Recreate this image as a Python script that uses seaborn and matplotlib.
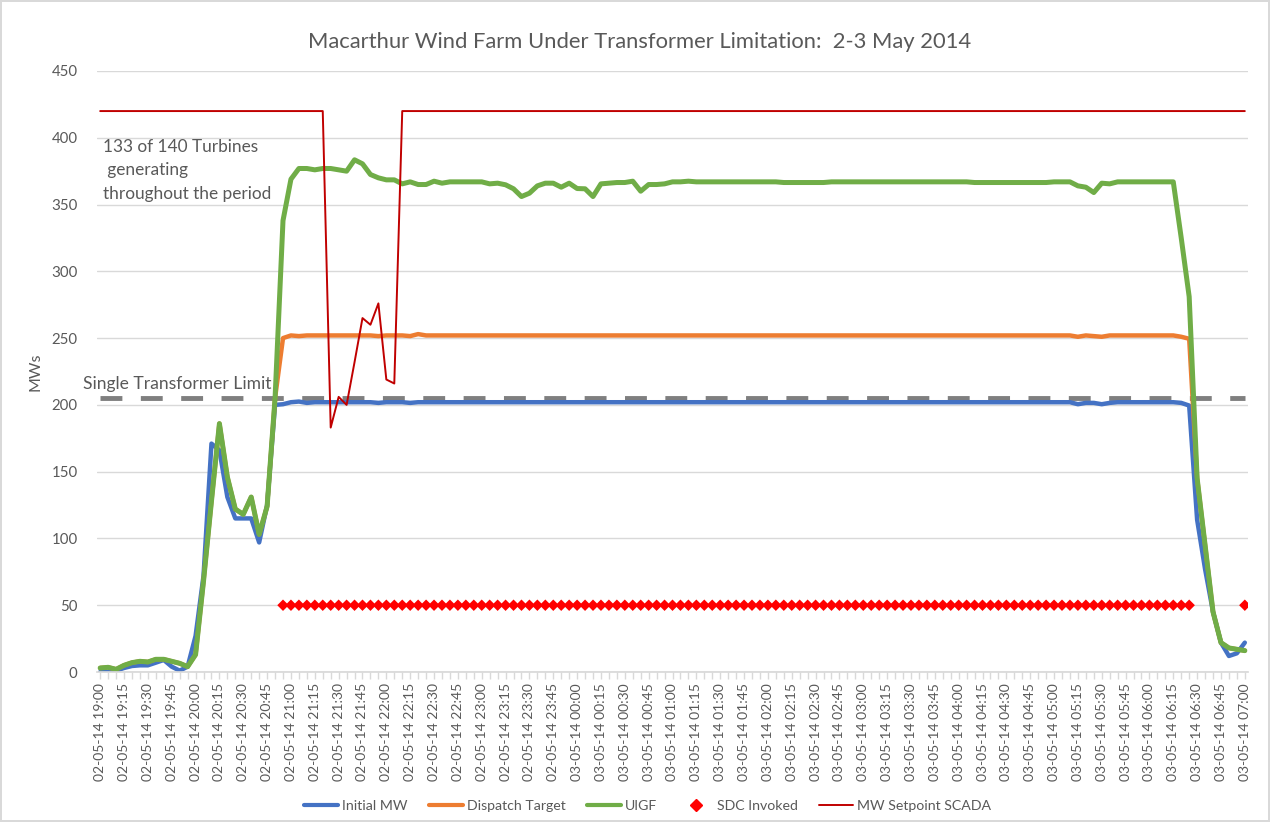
import numpy as np
import pandas as pd
import matplotlib
matplotlib.use('Agg')
import matplotlib.pyplot as plt
import seaborn as sns
from matplotlib.lines import Line2D

# 5-minute intervals, 19:00 on 2 May to 07:00 on 3 May 2014
times = pd.date_range('2014-05-02 19:00', '2014-05-03 07:00', freq='5min')
tick_labels = [t.strftime('%d-%m-%y %H:%M') for t in times[::3]]

initial_mw = [
    0, 0, 1, 3, 4.5, 5, 5, 7, 9, 4, 1, 4, 27, 72, 171, 166, 131, 115, 115, 115,
    97, 125, 200, 200.5, 202, 202.5, 201.5, 202, 202, 202, 202, 202, 202, 202, 202, 201.5,
    202, 202, 202, 201.5, 202] + [202] * 82 + [
    200.5, 201.5, 201.5, 200.5, 201.5, 202, 202, 202, 202, 202, 202, 202, 202,
    201.5, 199.5, 114, 77, 45, 22, 12, 14, 22]

uigf = [
    3, 3.5, 2, 5, 7, 8, 7.5, 9.5, 9.5, 8, 6.5, 4, 13, 68, 128, 186, 146, 122, 118, 131,
    103, 124, 205, 338, 369, 377, 377, 376, 377, 377, 376, 375, 383.5, 380.5, 372.5, 370,
    368.5, 368.5, 365.5, 367, 365, 365, 367.5, 366, 367, 367, 367, 367, 367, 365.5,
    366, 364.8, 361.8, 356, 358.5, 364, 366, 366, 363, 366, 362, 361.8, 356, 365.5,
    366, 366.5, 366.5, 367.5, 360, 365, 365, 365.5, 367, 367, 367.5] + [367] * 11 + \
    [366.5] * 6 + [367] * 18 + [366.5] * 10 + [367] * 3 + [
    364, 363, 359, 366, 365.5, 367, 367, 367, 367, 367, 367, 367, 367,
    325, 281, 145, 95, 45, 22, 18, 17, 16]

dispatch_target = uigf[:23] + [
    250, 252, 251.5, 252, 252, 252, 252, 252, 252, 252, 252, 252, 251.5, 252, 252, 252,
    251.5, 253] + [252] * 82 + [
    251, 252, 251.5, 251, 252, 252, 252, 252, 252, 252, 252, 252, 252, 251, 249.5,
    145, 95, 45, 22, 18, 17, 16]

sdc_invoked = [np.nan] * 23 + [50] * 115 + [np.nan] * 6 + [50]

mw_setpoint = [420] * 29 + [183, 206, 200, 232, 265, 260, 276, 219, 216] + [420] * 107

transformer_limit = [205] * 145

df = pd.DataFrame({
    'step': np.arange(len(times)),
    'Initial MW': initial_mw,
    'Dispatch Target': dispatch_target,
    'UIGF': uigf,
    'SDC Invoked': sdc_invoked,
    'MW Setpoint SCADA': mw_setpoint,
    'Limit': transformer_limit,
})

sns.set_theme(style='white')
plt.rcParams['font.family'] = ['Lato', 'DejaVu Sans']
text_col = '#595959'
grid_col = '#d9d9d9'

fig = plt.figure(figsize=(12.7, 8.22), dpi=100)
fig.patch.set_edgecolor(grid_col)
fig.patch.set_linewidth(1.5)
ax = fig.add_axes([97 / 1270, 1 - 672 / 822, (1248 - 97) / 1270, (672 - 71) / 822])

sns.lineplot(data=df, x='step', y='Limit', color='#7f7f7f', lw=3.5, ax=ax,
             dashes=False, linestyle=(0, (4.5, 3.8)))
sns.lineplot(data=df, x='step', y='Initial MW', color='#4472c4', lw=3.2, ax=ax)
sns.lineplot(data=df, x='step', y='Dispatch Target', color='#ed7d31', lw=3.2, ax=ax)
sns.lineplot(data=df, x='step', y='UIGF', color='#70ad47', lw=3.6, ax=ax)
sns.scatterplot(data=df, x='step', y='SDC Invoked', color='#ff0000', marker='D',
                s=34, edgecolor='none', ax=ax, zorder=4)
sns.lineplot(data=df, x='step', y='MW Setpoint SCADA', color='#c00000', lw=1.4, ax=ax)

ax.set_xlim(-0.4, 144.4)
ax.set_ylim(0, 450)
ax.set_yticks(range(0, 451, 50))
ax.grid(axis='y', color=grid_col, lw=1)
ax.set_axisbelow(True)
ax.set_xticks(np.arange(0, 145, 3))
ax.set_xticklabels(tick_labels, rotation=90, fontsize=10.0, color=text_col)
ax.set_xticks(np.arange(0, 145, 1), minor=True)
ax.tick_params(axis='x', which='both', length=5, color=grid_col, width=1, pad=3, bottom=True)
ax.tick_params(axis='y', length=0, labelsize=10.8, labelcolor=text_col, pad=14)
for s in ['top', 'right', 'left']:
    ax.spines[s].set_visible(False)
ax.spines['bottom'].set_color(grid_col)
ax.set_xlabel('')
ax.set_ylabel('MWs', fontsize=11.5, color=text_col, labelpad=6)

ax.text(-2.1, 215.5, 'Single Transformer Limit', fontsize=12.6, color=text_col,
        va='center', ha='left', clip_on=False)
ax.text(0.4, 393, '133 of 140 Turbines', fontsize=12.4, color=text_col, va='center')
ax.text(0.4, 375.5, ' generating', fontsize=12.4, color=text_col, va='center')
ax.text(0.4, 358, 'throughout the period', fontsize=12.4, color=text_col, va='center')

fig.text(0.504, 0.949, 'Macarthur Wind Farm Under Transformer Limitation:  2-3 May 2014',
         fontsize=15.8, color=text_col, ha='center', va='center')

handles = [
    Line2D([], [], color='#4472c4', lw=3),
    Line2D([], [], color='#ed7d31', lw=3),
    Line2D([], [], color='#70ad47', lw=3),
    Line2D([], [], color='#ff0000', marker='D', ms=6, lw=0),
    Line2D([], [], color='#c00000', lw=1.4),
]
labels = ['Initial MW', 'Dispatch Target', 'UIGF', 'SDC Invoked', 'MW Setpoint SCADA']
fig.legend(handles, labels, loc='center', bbox_to_anchor=(0.51, 0.0195), ncol=5,
           frameon=False, fontsize=10.2, labelcolor=text_col, handlelength=2.4,
           handletextpad=0.3, columnspacing=1.5)
if ax.get_legend() is not None:
    ax.get_legend().remove()

fig.savefig('out.png', dpi=100)
